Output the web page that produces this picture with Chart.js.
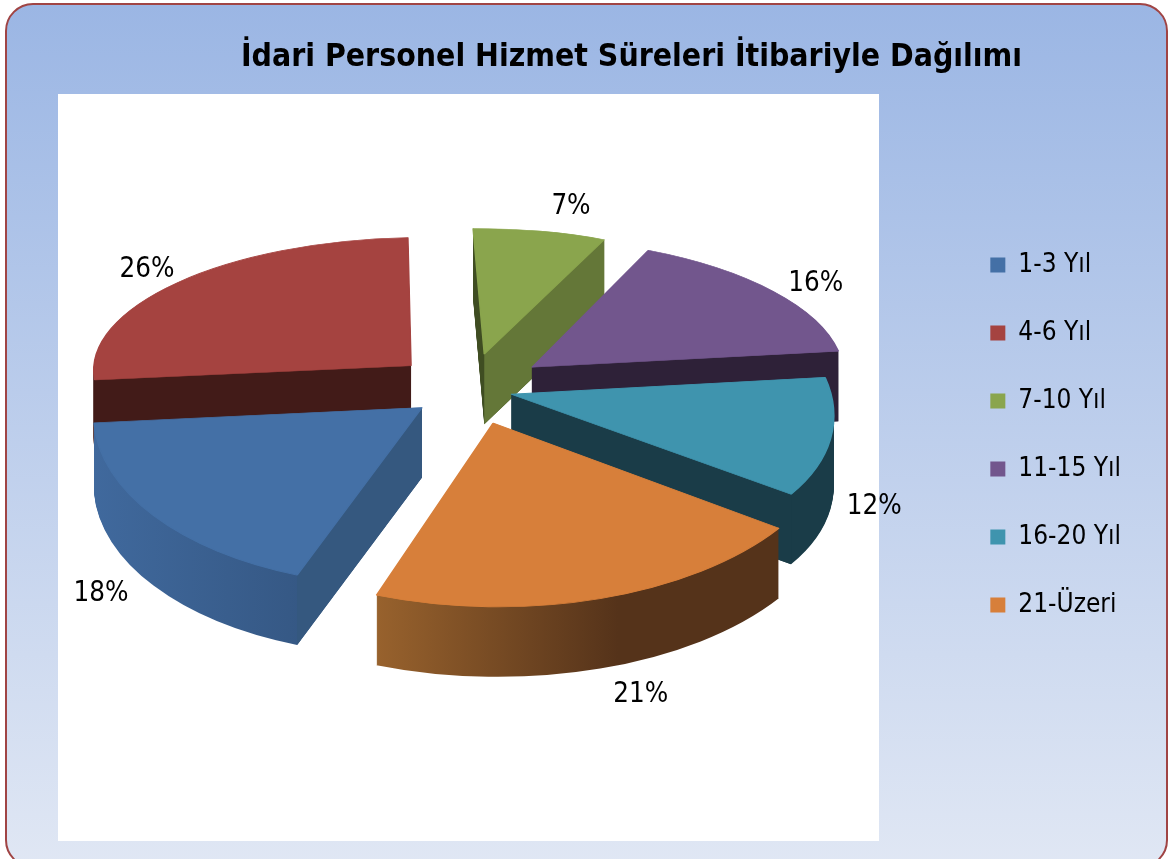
<!DOCTYPE html>
<html lang="tr">
<head>
<meta charset="utf-8">
<title>İdari Personel Hizmet Süreleri İtibariyle Dağılımı</title>
<script src="https://cdn.jsdelivr.net/npm/chart.js@4"></script>
<style>
html,body{margin:0;padding:0;width:1173px;height:859px;overflow:hidden;background:#fff}
#frame{position:absolute;left:5px;top:3px;width:1159px;height:861px;border:2px solid #a04444;border-radius:28px;
 background:linear-gradient(180deg,#9bb6e4 0%,#e0e7f4 100%)}
#plot{position:absolute;left:58px;top:94px;width:821px;height:747px;background:#fff}
canvas{position:absolute;left:0;top:0}
</style>
</head>
<body>
<div id="frame"></div>
<div id="plot"></div>
<canvas id="c" width="1173" height="859"></canvas>
<script>
const titleText = 'İdari Personel Hizmet Süreleri İtibariyle Dağılımı';
const categories = ['1-3 Yıl','4-6 Yıl','7-10 Yıl','11-15 Yıl','16-20 Yıl','21-Üzeri'];
const shares = [18,26,7,16,12,21];
const topColors = ['#4470a6','#a54340','#8aa54d','#72568d','#3f94ae','#d77f3a'];
const cutColors = ['#35587f','#421b18','#647738','#2e2138','#1a3c48','#55331a'];
const rimStops = [
  [[0,'#40699d'],[1,'#2f4e76']],
  [[0,'#421b18'],[1,'#421b18']],
  [[0,'#3f4d22'],[1,'#3f4d22']],
  [[0,'#2e2138'],[1,'#2e2138']],
  [[0,'#1a3c48'],[1,'#1a3c48']],
  [[0,'#98622d'],[0.6,'#55331a'],[1,'#55331a']]
];
const explode = [60,80,80,80,42,72];
const paintOrder = [2,1,3,0,4,5];
const viewSkewDeg = [-1,0,0,2.6,2.7,3.5];
const labelRadius = [417,462.5,482,457,400,437.6];
const labelTurnDeg = [0.7,-2.4,3.8,4.4,0.9,-0.8];
const labelDrop = [72,2,2,2,72,72];

const pieRadius = 320, tilt = 0.47, persp = 0.0004, wallHeight = 70, midX = 470, midY = 390;
const fontFamily = '"DejaVu Sans Condensed", "DejaVu Sans", sans-serif';
const RAD = Math.PI/180;

function project(u, v){
  const w = 1 - persp*v;
  return {x: midX + u/w, y: midY + tilt*v/w};
}
function sliceGeometry(arc, i){
  const a0 = arc.startAngle, a1 = arc.endAngle, half = (a0+a1)/2, r = arc.outerRadius;
  const b0 = a0 + viewSkewDeg[i]*RAD, b1 = a1 + viewSkewDeg[(i+1)%viewSkewDeg.length]*RAD;
  const ox = explode[i]*Math.cos(half), oy = explode[i]*Math.sin(half);
  const D0 = project(ox, oy);
  const D1 = project(ox + r*Math.cos(b0), oy + r*Math.sin(b0));
  const D2 = project(ox + r*Math.cos(b1), oy + r*Math.sin(b1));
  const e1x = r*Math.cos(a0), e1y = r*Math.sin(a0), e2x = r*Math.cos(a1), e2y = r*Math.sin(a1);
  const det = e1x*e2y - e2x*e1y;
  const f1x = D1.x-D0.x, f1y = D1.y-D0.y, f2x = D2.x-D0.x, f2y = D2.y-D0.y;
  const a = (f1x*e2y - f2x*e1y)/det, c = (-f1x*e2x + f2x*e1x)/det;
  const b = (f1y*e2y - f2y*e1y)/det, d = (-f1y*e2x + f2y*e1x)/det;
  const e = D0.x - (a*arc.x + c*arc.y), f = D0.y - (b*arc.x + d*arc.y);
  return {D0,D1,D2,a,b,c,d,e,f};
}
function rimGradient(ctx, g, i){
  const xs = [g.D0.x,g.D1.x,g.D2.x];
  const x0 = Math.min(...xs) - 1, x1 = Math.max(...xs) + 1, n = g.a*g.a + g.c*g.c;
  const grad = ctx.createLinearGradient((x0-g.e)*g.a/n,(x0-g.e)*g.c/n,(x1-g.e)*g.a/n,(x1-g.e)*g.c/n);
  rimStops[i].forEach(s => grad.addColorStop(s[0], s[1]));
  return grad;
}
function drawWith(arc, ctx, fill, edge){
  const o = arc.options;
  arc.options = Object.assign({}, o, {backgroundColor: fill, borderColor: fill, borderWidth: edge || 0, offset: 0});
  arc.draw(ctx);
  arc.options = o;
}
function wallVisible(P, Q, other){
  const ex = Q.x-P.x, ey = Q.y-P.y;
  const side = ex*(other.y-P.y) - ey*(other.x-P.x);
  return ex*side < 0;
}
const pie3d = {
  id: 'pie3d',
  beforeDatasetsDraw(chart){
    const ctx = chart.ctx, arcs = chart.getDatasetMeta(0).data;
    paintOrder.forEach(i => {
      const arc = arcs[i], g = sliceGeometry(arc, i);
      ctx.save();
      const rim = rimGradient(ctx, g, i);
      for (let dy = wallHeight; dy >= 1; dy--) {
        ctx.setTransform(g.a, g.b, g.c, g.d, g.e, g.f + dy);
        drawWith(arc, ctx, rim);
      }
      ctx.setTransform(1,0,0,1,0,0);
      [[g.D1,g.D2],[g.D2,g.D1]].forEach(([rimPt, other]) => {
        if (wallVisible(g.D0, rimPt, other) && Math.abs(rimPt.x-g.D0.x) > 40) {
          ctx.beginPath();
          ctx.moveTo(g.D0.x, g.D0.y);
          ctx.lineTo(rimPt.x, rimPt.y);
          ctx.lineTo(rimPt.x, rimPt.y + wallHeight);
          ctx.lineTo(g.D0.x, g.D0.y + wallHeight);
          ctx.closePath();
          ctx.fillStyle = cutColors[i];
          ctx.fill();
        }
      });
      ctx.setTransform(g.a, g.b, g.c, g.d, g.e, g.f);
      drawWith(arc, ctx, topColors[i], 1.5);
      ctx.restore();
    });
    return false;
  },
  afterDraw(chart){
    const ctx = chart.ctx, arcs = chart.getDatasetMeta(0).data;
    ctx.save();
    ctx.setTransform(1,0,0,1,0,0);
    ctx.font = '27.5px ' + fontFamily;
    ctx.fillStyle = '#000';
    ctx.textAlign = 'center';
    ctx.textBaseline = 'middle';
    arcs.forEach((arc, i) => {
      const half = (arc.startAngle + arc.endAngle)/2 + labelTurnDeg[i]*RAD;
      const p = project(labelRadius[i]*Math.cos(half), labelRadius[i]*Math.sin(half));
      ctx.fillText(shares[i] + '%', p.x, p.y + labelDrop[i]);
    });
    ctx.restore();
  }
};
new Chart(document.getElementById('c'), {
  type: 'pie',
  data: {labels: categories, datasets: [{data: shares, backgroundColor: topColors, borderWidth: 0, radius: pieRadius}]},
  options: {
    responsive: false,
    animation: false,
    rotation: 199.6,
    layout: {padding: {left: 132, right: 42, top: 11, bottom: 0}},
    plugins: {
      tooltip: {enabled: false},
      title: {display: true, text: titleText, color: '#000', padding: {top: 28, bottom: 9},
        font: {family: fontFamily, size: 31.7, weight: 'bold'}},
      legend: {position: 'right', labels: {boxWidth: 15, boxHeight: 15, padding: 42, color: '#000',
        font: {family: fontFamily, size: 26}}}
    }
  },
  plugins: [pie3d]
});
</script>
</body>
</html>
